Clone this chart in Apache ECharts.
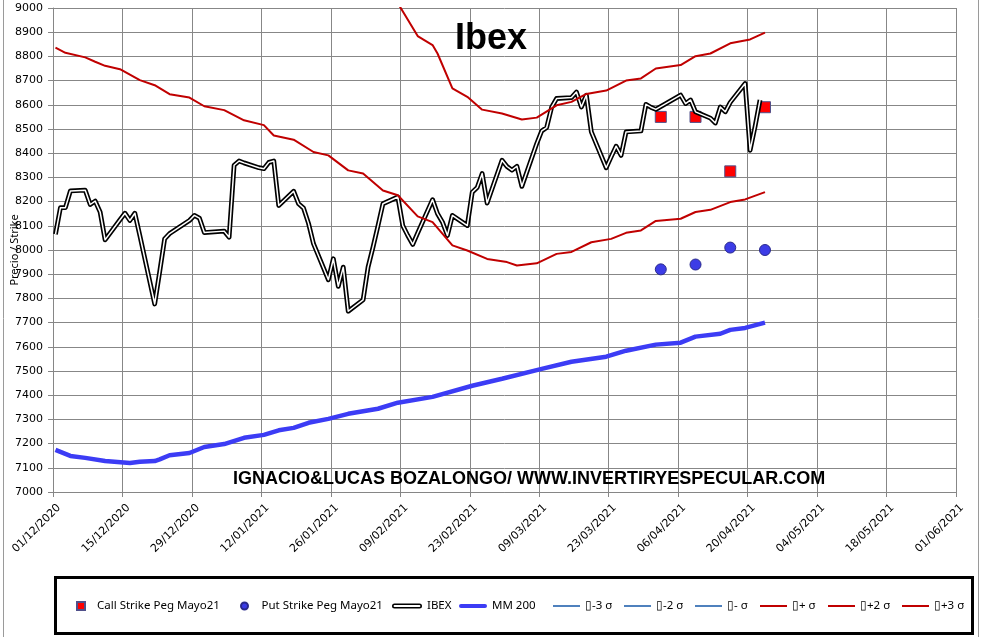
<!DOCTYPE html>
<html><head><meta charset="utf-8">
<script src="https://cdn.jsdelivr.net/npm/echarts@6/dist/echarts.min.js"></script>
<style>html,body{margin:0;padding:0;background:#fff}#c{width:988px;height:637px}</style>
</head><body><div id="c"></div>
<script>
// ---- tick labels (every 14 days from 01/12/2020) ----
const tickLabels = ['01/12/2020','15/12/2020','29/12/2020','12/01/2021','26/01/2021','09/02/2021','23/02/2021','09/03/2021','23/03/2021','06/04/2021','20/04/2021','04/05/2021','18/05/2021','01/06/2021'];
const yTicks = [7000, 9000, 100];

// ---- IBEX close ----
const ibexDates = ['2020-12-01','2020-12-02','2020-12-03','2020-12-04','2020-12-07','2020-12-08','2020-12-09','2020-12-10','2020-12-11','2020-12-14','2020-12-15','2020-12-16','2020-12-17','2020-12-18','2020-12-21','2020-12-22','2020-12-23','2020-12-24','2020-12-28','2020-12-29','2020-12-30','2020-12-31','2021-01-04','2021-01-05','2021-01-06','2021-01-07','2021-01-08','2021-01-11','2021-01-12','2021-01-13','2021-01-14','2021-01-15','2021-01-18','2021-01-19','2021-01-20','2021-01-21','2021-01-22','2021-01-25','2021-01-26','2021-01-27','2021-01-28','2021-01-29','2021-02-01','2021-02-02','2021-02-03','2021-02-04','2021-02-05','2021-02-08','2021-02-09','2021-02-10','2021-02-11','2021-02-12','2021-02-15','2021-02-16','2021-02-17','2021-02-18','2021-02-19','2021-02-22','2021-02-23','2021-02-24','2021-02-25','2021-02-26','2021-03-01','2021-03-02','2021-03-03','2021-03-04','2021-03-05','2021-03-08','2021-03-09','2021-03-10','2021-03-11','2021-03-12','2021-03-15','2021-03-16','2021-03-17','2021-03-18','2021-03-19','2021-03-22','2021-03-23','2021-03-24','2021-03-25','2021-03-26','2021-03-29','2021-03-30','2021-03-31','2021-04-01','2021-04-06','2021-04-07','2021-04-08','2021-04-09','2021-04-12','2021-04-13','2021-04-14','2021-04-15','2021-04-16','2021-04-19','2021-04-20','2021-04-21','2021-04-22'];
const ibexValues = [8065,8175,8175,8244,8247,8188,8202,8157,8042,8125,8152,8122,8152,8060,7777,7910,8046,8068,8122,8143,8132,8072,8078,8053,8350,8368,8360,8340,8336,8362,8368,8184,8243,8191,8173,8110,8026,7877,7964,7850,7929,7747,7794,7929,8012,8100,8191,8219,8101,8060,8023,8070,8208,8150,8115,8060,8143,8101,8239,8258,8316,8194,8371,8345,8330,8346,8263,8440,8492,8506,8590,8626,8630,8653,8591,8640,8488,8340,8385,8429,8391,8488,8492,8602,8590,8581,8640,8605,8620,8571,8545,8525,8591,8571,8610,8688,8412,8510,8620];

// ---- MM 200 ----
const mmDates = ['2020-12-01','2020-12-04','2020-12-07','2020-12-11','2020-12-16','2020-12-18','2020-12-21','2020-12-22','2020-12-24','2020-12-28','2020-12-31','2021-01-04','2021-01-08','2021-01-12','2021-01-15','2021-01-18','2021-01-21','2021-01-25','2021-01-29','2021-02-04','2021-02-08','2021-02-15','2021-02-23','2021-03-01','2021-03-09','2021-03-15','2021-03-22','2021-03-26','2021-04-01','2021-04-06','2021-04-09','2021-04-14','2021-04-16','2021-04-19','2021-04-23'];
const mmValues = [7174,7149,7141,7128,7120,7125,7128,7135,7152,7161,7186,7198,7224,7236,7255,7265,7286,7302,7323,7344,7369,7393,7439,7468,7509,7538,7559,7584,7609,7617,7642,7654,7670,7678,7700];

// ---- +σ ----
const s1pDates = ['2020-12-01','2020-12-03','2020-12-07','2020-12-09','2020-12-11','2020-12-14','2020-12-18','2020-12-21','2020-12-24','2020-12-28','2020-12-31','2021-01-04','2021-01-08','2021-01-12','2021-01-14','2021-01-18','2021-01-22','2021-01-25','2021-01-29','2021-02-01','2021-02-05','2021-02-08','2021-02-12','2021-02-15','2021-02-19','2021-02-22','2021-02-26','2021-03-02','2021-03-04','2021-03-08','2021-03-12','2021-03-15','2021-03-19','2021-03-23','2021-03-26','2021-03-29','2021-04-01','2021-04-06','2021-04-09','2021-04-12','2021-04-16','2021-04-19','2021-04-23'];
const s1pValues = [8836,8815,8796,8778,8761,8747,8702,8681,8644,8630,8594,8578,8536,8516,8473,8456,8405,8391,8329,8316,8246,8226,8139,8115,8019,7998,7963,7950,7936,7945,7984,7992,8032,8046,8071,8081,8120,8129,8157,8166,8198,8209,8239];

// ---- +2σ ----
const s2pDates = ['2021-02-08','2021-02-12','2021-02-15','2021-02-16','2021-02-19','2021-02-22','2021-02-25','2021-03-01','2021-03-05','2021-03-08','2021-03-12','2021-03-15','2021-03-18','2021-03-22','2021-03-26','2021-03-29','2021-04-01','2021-04-06','2021-04-09','2021-04-12','2021-04-16','2021-04-20','2021-04-23'];
const s2pValues = [9020,8884,8847,8812,8668,8633,8580,8564,8539,8547,8598,8612,8645,8659,8700,8709,8750,8764,8801,8812,8854,8870,8898];

// ---- series with no visible points in this range ----
const s3pDates = [], s3pValues = [];
const s1mDates = [], s1mValues = [];
const s2mDates = [], s2mValues = [];
const s3mDates = [], s3mValues = [];

// ---- weekly strikes ----
const strikeDates = ['2021-04-02','2021-04-09','2021-04-16','2021-04-23'];
const callStrikes = [8550,8550,8325,8590];
const putStrikes = [7920,7940,8010,8000];

// ---- helpers ----
const BASE = Date.UTC(2020, 11, 1);
function dayIdx(s) { const p = s.split('-').map(Number); return (Date.UTC(p[0], p[1]-1, p[2]) - BASE) / 86400000; }
// Excel date axis plots points in the middle of each day slot
function pairs(dates, vals) { return dates.map((d, i) => [dayIdx(d) + 0.5, vals[i]]); }

const red = '#c00000', steel = '#4f81bd';
const legendFont = { fontFamily: 'Noto Sans', fontSize: 11.5, color: '#000' };
function lg(name, left, w, h, icon) {
  return { data: [icon ? { name, icon } : name], left, top: 600, itemWidth: w, itemHeight: h,
    itemGap: 0, padding: 0, textStyle: legendFont, symbolKeepAspect: true };
}
const barIcon = 'path://M0,0H27V2H0Z';
const sigLine = (name, color, dates, vals) => ({ name, type: 'line', data: pairs(dates, vals), showSymbol: false,
  symbol: 'none', lineStyle: { color, width: 2 }, itemStyle: { color }, z: 5 });

const chart = echarts.init(document.getElementById('c'));
chart.setOption({
  animation: false,
  backgroundColor: '#fff',
  title: [
    { text: 'Ibex', left: 450, top: 16, textStyle: { fontFamily: 'Liberation Sans', fontWeight: 'bold', fontSize: 36, color: '#000' } },
    { text: 'IGNACIO&LUCAS BOZALONGO/ WWW.INVERTIRYESPECULAR.COM', left: 228, top: 465, z: 10,
      textStyle: { fontFamily: 'Liberation Sans', fontWeight: 'bold', fontSize: 18, color: '#000' } }
  ],
  grid: { left: 53, top: 8, width: 903, height: 484, containLabel: false, outerBoundsMode: 'none' },
  xAxis: {
    type: 'value', min: 0, max: 182, interval: 14,
    axisLine: { show: true, lineStyle: { color: '#868686' } },
    axisTick: { show: true, length: 5, lineStyle: { color: '#868686' } },
    splitLine: { show: true, lineStyle: { color: '#878787', width: 1 } },
    axisLabel: { rotate: 45, margin: 8, align: 'right', verticalAlign: 'top', padding: [3, 0, 0, 0],
      fontFamily: 'DejaVu Sans', fontSize: 11, color: '#000',
      showMinLabel: true, showMaxLabel: true, formatter: v => tickLabels[Math.round(v / 14)] }
  },
  yAxis: {
    type: 'value', min: yTicks[0], max: yTicks[1], interval: yTicks[2],
    name: 'Precio / Strike', nameLocation: 'middle', nameGap: 33, nameMoveOverlap: false,
    nameTextStyle: { fontFamily: 'Noto Sans', fontSize: 11, color: '#000' },
    axisLine: { show: true, lineStyle: { color: '#868686' } },
    axisTick: { show: true, length: 5, lineStyle: { color: '#868686' } },
    splitLine: { show: true, lineStyle: { color: '#878787', width: 1 } },
    axisLabel: { margin: 10, fontFamily: 'DejaVu Sans', fontSize: 11, color: '#000', formatter: v => String(v) }
  },
  legend: [
    lg('Call Strike Peg Mayo21', 76, 22, 8, 'path://M0,0H10V10H0Z'),
    lg('Put Strike Peg Mayo21', 240, 24, 7, 'circle'),
    lg('IBEX', 392, 30, 5, 'path://M2.5,0H27.5A2.5,2.5 0 0 1 27.5,5H2.5A2.5,2.5 0 0 1 2.5,0Z M2.5,1.6A0.9,0.9 0 0 0 2.5,3.4H27.5A0.9,0.9 0 0 0 27.5,1.6Z'),
    lg('MM 200', 459, 28, 4, 'path://M2,0H26A2,2 0 0 1 26,4H2A2,2 0 0 1 2,0Z'),
    lg('▯-3 σ', 553, 27, 2, barIcon),
    lg('▯-2 σ', 624, 27, 2, barIcon),
    lg('▯- σ', 695, 27, 2, barIcon),
    lg('▯+ σ', 760, 27, 2, barIcon),
    lg('▯+2 σ', 828, 27, 2, barIcon),
    lg('▯+3 σ', 902, 27, 2, barIcon)
  ],
  graphic: [
    { type: 'line', shape: { x1: 3.5, y1: 0, x2: 3.5, y2: 637 }, style: { stroke: '#9a9a9a', lineWidth: 1 }, silent: true },
    { type: 'line', shape: { x1: 978.5, y1: 0, x2: 978.5, y2: 637 }, style: { stroke: '#9a9a9a', lineWidth: 1 }, silent: true },
    { type: 'rect', shape: { x: 55.5, y: 577.5, width: 917, height: 56 }, style: { fill: 'none', stroke: '#000', lineWidth: 3 }, silent: true }
  ],
  series: [
    { name: 'Call Strike Peg Mayo21', type: 'scatter', data: pairs(strikeDates, callStrikes), symbol: 'rect', symbolSize: 11,
      itemStyle: { color: '#ff0000', borderColor: '#50508a', borderWidth: 1, opacity: 1 }, z: 3 },
    { name: 'Put Strike Peg Mayo21', type: 'scatter', data: pairs(strikeDates, putStrikes), symbol: 'circle', symbolSize: 11,
      itemStyle: { color: '#3c3ce6', borderColor: '#2a2a8c', borderWidth: 1, opacity: 1 }, z: 3 },
    { name: 'IBEX', type: 'line', data: pairs(ibexDates, ibexValues), showSymbol: false, symbol: 'none',
      lineStyle: { color: '#000', width: 4.8, join: 'round' }, itemStyle: { color: '#000' }, z: 4 },
    { name: 'IBEX', type: 'line', data: pairs(ibexDates, ibexValues), showSymbol: false, symbol: 'none',
      lineStyle: { color: '#fff', width: 1.5, join: 'round' }, itemStyle: { color: '#fff' }, z: 4 },
    { name: 'MM 200', type: 'line', data: pairs(mmDates, mmValues), showSymbol: false, symbol: 'none',
      lineStyle: { color: '#3c3cf5', width: 4.5 }, itemStyle: { color: '#3c3cf5' }, z: 5 },
    sigLine('▯-3 σ', steel, s3mDates, s3mValues),
    sigLine('▯-2 σ', steel, s2mDates, s2mValues),
    sigLine('▯- σ', steel, s1mDates, s1mValues),
    sigLine('▯+ σ', red, s1pDates, s1pValues),
    sigLine('▯+2 σ', red, s2pDates, s2pValues),
    sigLine('▯+3 σ', red, s3pDates, s3pValues)
  ]
});
</script>
</body></html>
